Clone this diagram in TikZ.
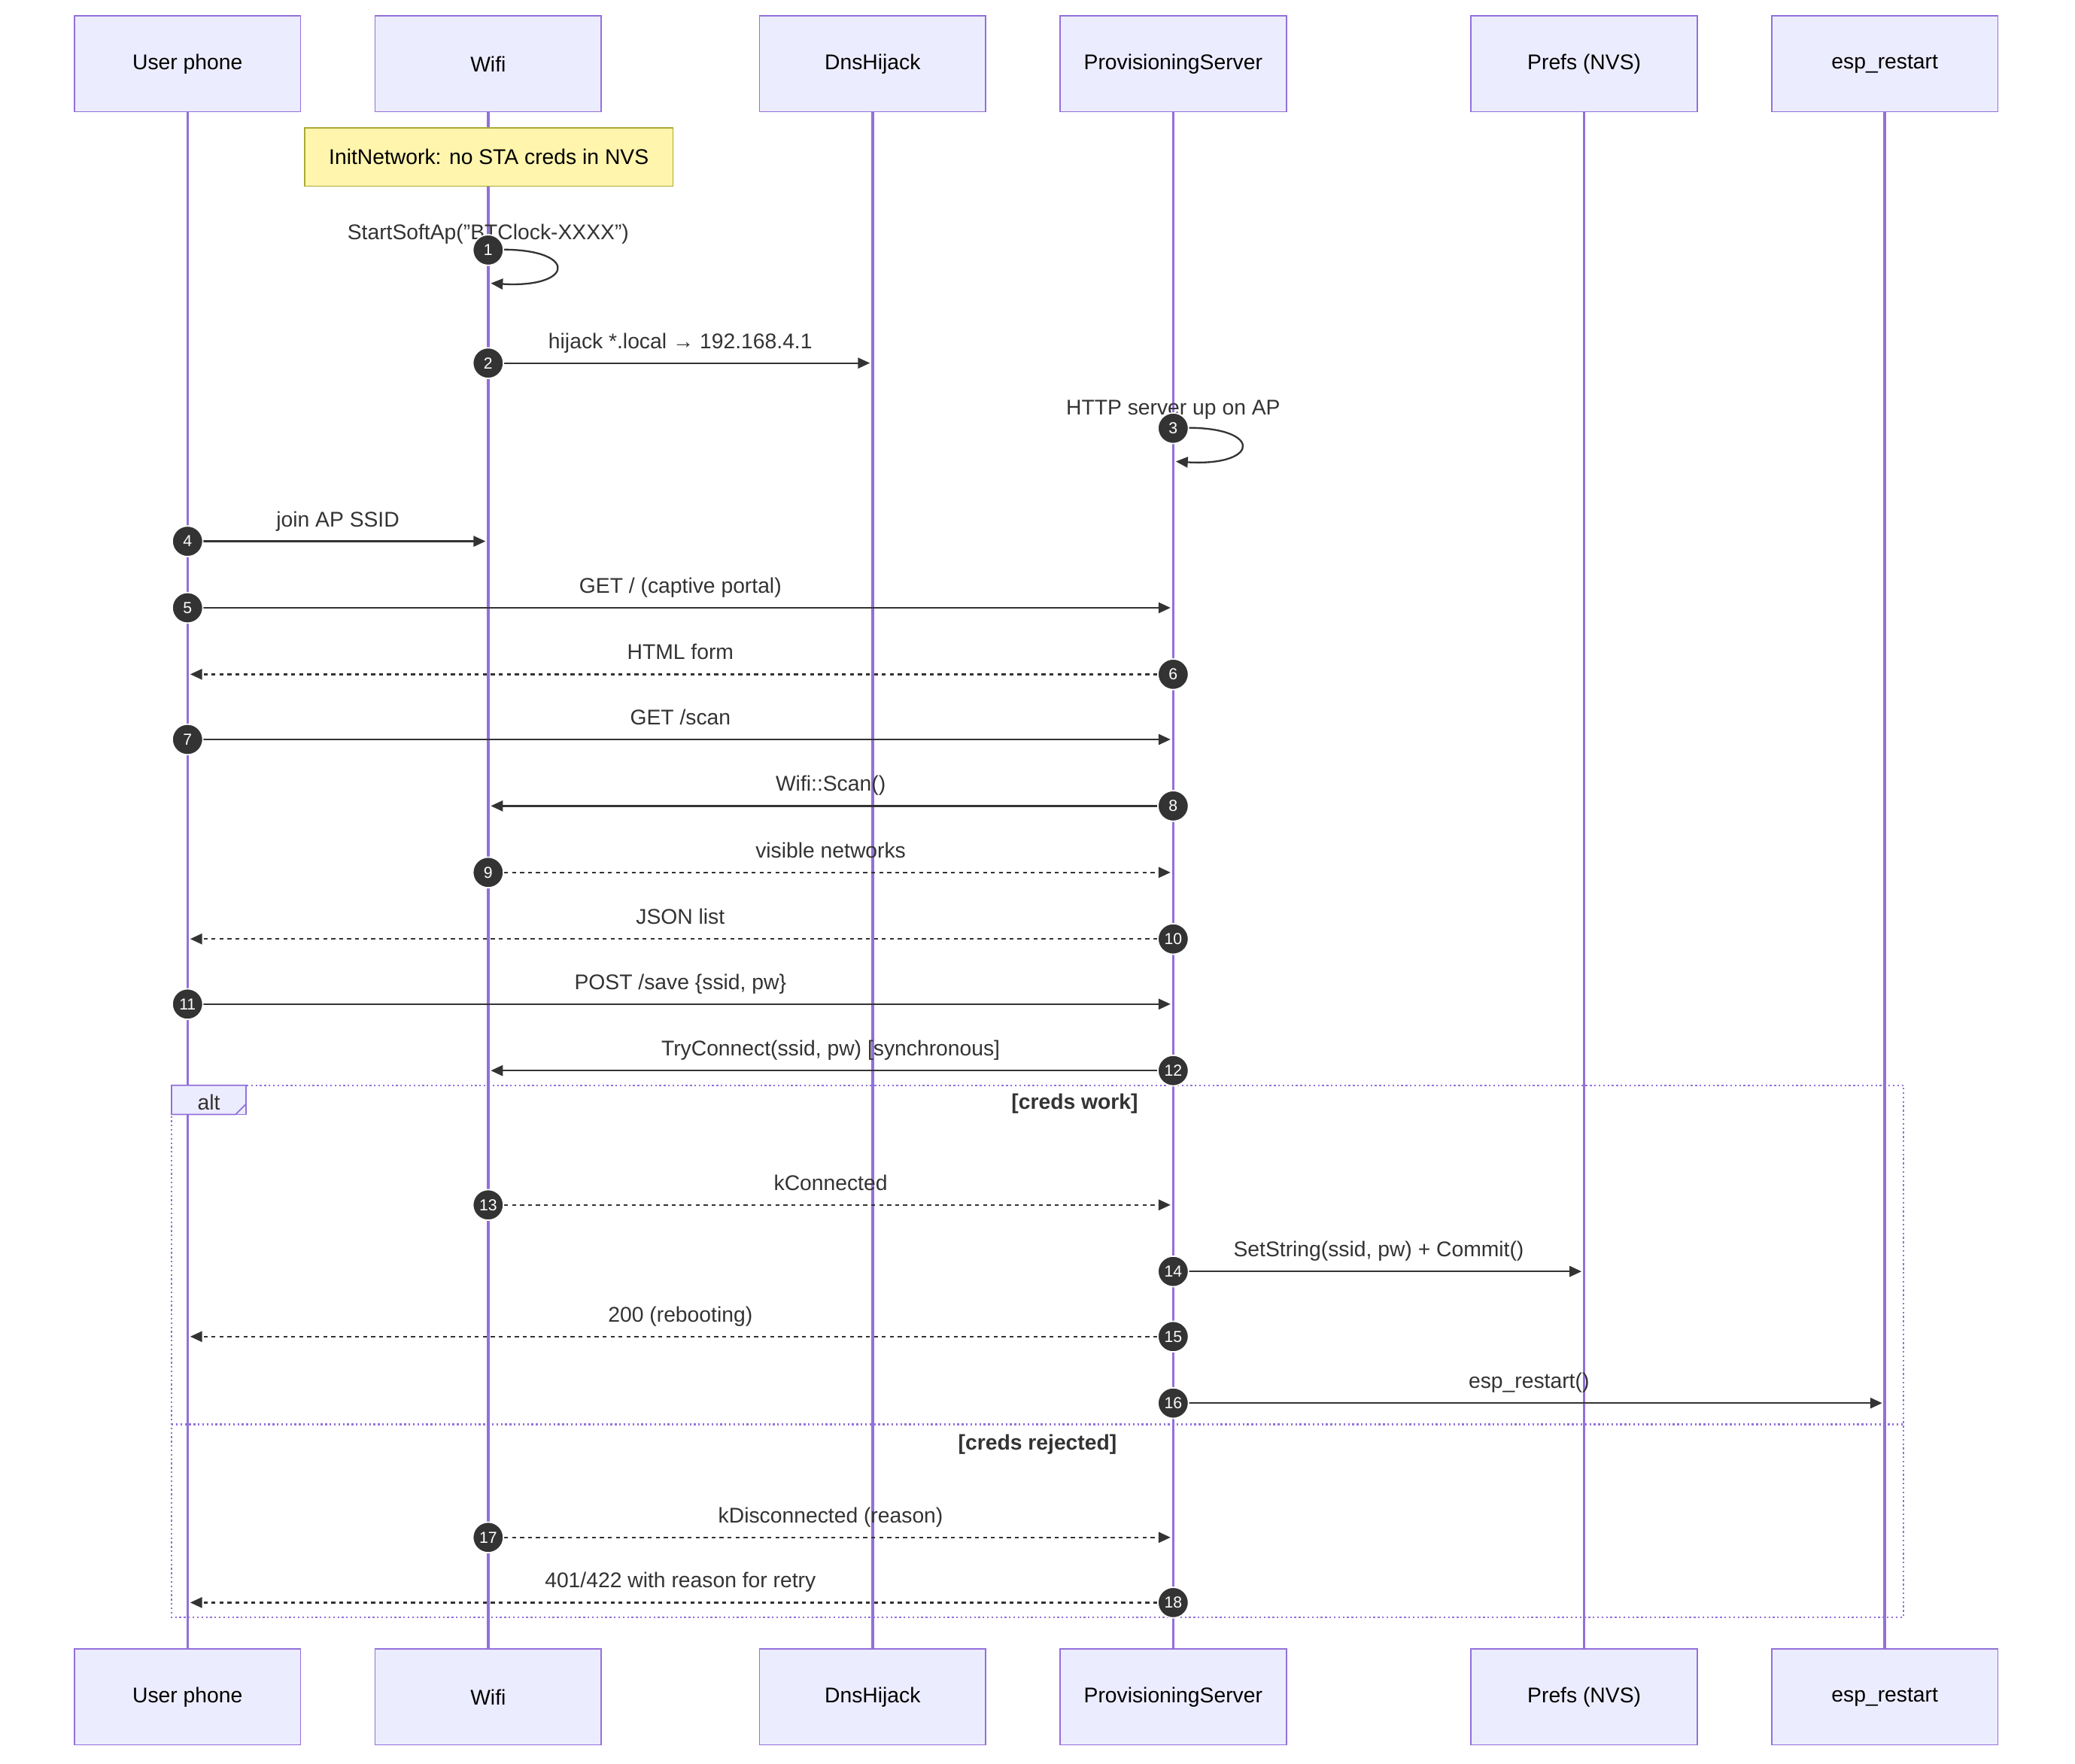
\documentclass[tikz,border=0pt]{standalone}
\usepackage{fontspec}
\setmainfont{Liberation Sans}
\usetikzlibrary{arrows.meta}
\definecolor{actfill}{HTML}{ECECFF}
\definecolor{actline}{HTML}{9370DB}
\definecolor{notefill}{HTML}{FFF5AD}
\definecolor{noteline}{HTML}{AAAA33}
\definecolor{ink}{HTML}{333333}
\begin{document}
\begin{tikzpicture}[x=1pt,y=-1pt,font=\fontsize{16}{19}\selectfont,
  actor/.style={draw=actline,fill=actfill,line width=1pt,minimum width=170pt,minimum height=72pt,inner sep=0pt},
  life/.style={draw=actline,line width=2pt},
  msg/.style={draw=ink,line width=1.3pt,-{Triangle[length=9pt,width=8pt]}},
  rep/.style={msg,dash pattern=on 3pt off 3pt},
  num/.style={circle,fill=ink,draw=white,line width=1pt,inner sep=0pt,minimum size=23pt,text=white,font=\fontsize{12}{14}\selectfont},
  lbl/.style={text=ink,anchor=base},
  frame/.style={draw=actline,line width=1.3pt,dotted}]
\useasboundingbox (0,0) rectangle (1560,1326);
\foreach \n/\x/\t in {u/141/User phone,w/367/Wifi,d/656/DnsHijack,p/882/ProvisioningServer,f/1191/Prefs (NVS),e/1417/esp\_restart}{
  \node[actor] (\n t) at (\x,48) {\t};
  \node[actor] (\n b) at (\x,1276) {\t};
  \draw[life] (\n t.south) -- (\n b.north);
  \coordinate (\n) at (\x,0);
}
\node[draw=noteline,fill=notefill,line width=1pt,minimum width=277pt,minimum height=44pt,inner sep=0pt] (note) at (367.5,118) {InitNetwork: no STA creds in NVS};
% alt frame
\draw[frame] (129,816) rectangle (1431,1216);
\draw[frame] (129,1071) -- (1431,1071);
\node[draw=actline,fill=actfill,line width=1pt,inner sep=0pt,minimum width=56pt,minimum height=22pt] (altlab) at (157,827) {};
\draw[actline,fill=actfill,line width=1pt] (129,816) -- (185,816) -- (185,830) -- (177,838) -- (129,838) -- cycle;
\node[text=ink] (alttxt) at (157,829) {alt};
\node[text=ink,font=\fontsize{16}{19}\selectfont\bfseries] (c1) at (808,830) {[creds work]};
\node[text=ink,font=\fontsize{16}{19}\selectfont\bfseries] (c2) at (780,1086) {[creds rejected]};
% self loops
\coordinate (s1a) at (367,188); \coordinate (s1b) at (369,213);
\draw[msg] (s1a) .. controls (435,184) and (435,217) .. (s1b);
\node[lbl] (l1) at (367,180) {StartSoftAp("BTClock-XXXX")};
\node[num] (n1) at (s1a) {1};
\coordinate (s3a) at (882,322); \coordinate (s3b) at (884,347);
\draw[msg] (s3a) .. controls (950,318) and (950,351) .. (s3b);
\node[lbl] (l3) at (882,312) {HTTP server up on AP};
\node[num] (n3) at (s3a) {3};
% messages
\newcommand\mymsg[6]{%
  \coordinate (a#4) at ($(#2)+(0,#1)$);
  \coordinate (b#4) at ($(#3)+(0,#1)$);
  \draw[#6] (a#4) -- ($(b#4)!2pt!(a#4)$);
  \node[lbl] (l#4) at ($(a#4)!.5!(b#4)+(0,-11)$) {#5};
  \node[num] (n#4) at (a#4) {#4};}
\usetikzlibrary{calc}
\mymsg{273}{w}{d}{2}{hijack *.local → 192.168.4.1}{msg}
\mymsg{407}{u}{w}{4}{join AP SSID}{msg}
\mymsg{457}{u}{p}{5}{GET / (captive portal)}{msg}
\mymsg{507}{p}{u}{6}{HTML form}{rep}
\mymsg{556}{u}{p}{7}{GET /scan}{msg}
\mymsg{606}{p}{w}{8}{Wifi::Scan()}{msg}
\mymsg{656}{w}{p}{9}{visible networks}{rep}
\mymsg{706}{p}{u}{10}{JSON list}{rep}
\mymsg{755}{u}{p}{11}{POST /save \{ssid, pw\}}{msg}
\mymsg{805}{p}{w}{12}{TryConnect(ssid, pw) [synchronous]}{msg}
\mymsg{906}{w}{p}{13}{kConnected}{rep}
\mymsg{956}{p}{f}{14}{SetString(ssid, pw) + Commit()}{msg}
\mymsg{1005}{p}{u}{15}{200 (rebooting)}{rep}
\mymsg{1055}{p}{e}{16}{esp\_restart()}{msg}
\mymsg{1156}{w}{p}{17}{kDisconnected (reason)}{rep}
\mymsg{1205}{p}{u}{18}{401/422 with reason for retry}{rep}
\end{tikzpicture}
\end{document}
